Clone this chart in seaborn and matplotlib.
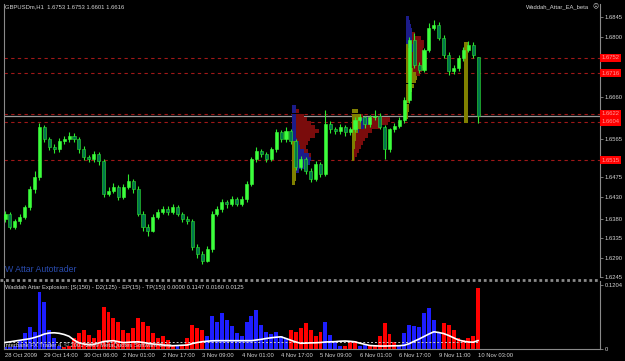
import numpy as np
import matplotlib
matplotlib.use("Agg")
import matplotlib.pyplot as plt
import matplotlib.transforms as mtransforms
from matplotlib.lines import Line2D
import seaborn as sns

# ---------------- data (hourly candles, aggregated per 2h) ----------------
opens = [1.6380, 1.6391, 1.6361, 1.6375, 1.6384, 1.6407, 1.6448, 1.6476, 1.6591, 1.6563,
         1.6545, 1.6540, 1.6559, 1.6563, 1.6572, 1.6563, 1.6540, 1.6522, 1.6517, 1.6529,
         1.6513, 1.6437, 1.6444, 1.6453, 1.6430, 1.6453, 1.6467, 1.6448, 1.6391, 1.6361,
         1.6352, 1.6384, 1.6395, 1.6402, 1.6395, 1.6407, 1.6391, 1.6379, 1.6375, 1.6315,
         1.6299, 1.6283, 1.6310, 1.6391, 1.6402, 1.6418, 1.6414, 1.6425, 1.6414, 1.6425,
         1.6460, 1.6517, 1.6536, 1.6529, 1.6517, 1.6540, 1.6579, 1.6563, 1.6582, 1.6559,
         1.6499, 1.6517, 1.6490, 1.6471, 1.6506, 1.6483, 1.6598, 1.6586, 1.6582, 1.6591,
         1.6579, 1.6586, 1.6609, 1.6614, 1.6598, 1.6614, 1.6618, 1.6591, 1.6540, 1.6586,
         1.6595, 1.6609, 1.6655, 1.6793, 1.6736, 1.6724, 1.6770, 1.6821, 1.6828, 1.6798,
         1.6759, 1.6720, 1.6729, 1.6752, 1.6770, 1.6782, 1.6753]
highs = [1.6398, 1.6395, 1.6380, 1.6390, 1.6412, 1.6455, 1.6490, 1.6602, 1.6596, 1.6568,
         1.6552, 1.6566, 1.6570, 1.6580, 1.6578, 1.6568, 1.6548, 1.6528, 1.6536, 1.6535,
         1.6518, 1.6452, 1.6462, 1.6458, 1.6460, 1.6482, 1.6472, 1.6455, 1.6398, 1.6368,
         1.6390, 1.6402, 1.6410, 1.6410, 1.6414, 1.6412, 1.6396, 1.6386, 1.6380, 1.6322,
         1.6306, 1.6316, 1.6398, 1.6410, 1.6425, 1.6422, 1.6432, 1.6430, 1.6432, 1.6466,
         1.6522, 1.6545, 1.6540, 1.6535, 1.6546, 1.6588, 1.6584, 1.6592, 1.6588, 1.6564,
         1.6525, 1.6522, 1.6496, 1.6512, 1.6510, 1.6632, 1.6606, 1.6592, 1.6598, 1.6596,
         1.6592, 1.6614, 1.6622, 1.6618, 1.6620, 1.6630, 1.6624, 1.6596, 1.6590, 1.6600,
         1.6614, 1.6662, 1.6800, 1.6808, 1.6742, 1.6775, 1.6832, 1.6840, 1.6834, 1.6805,
         1.6764, 1.6735, 1.6758, 1.6776, 1.6790, 1.6788, 1.6753]
lows = [1.6372, 1.6355, 1.6356, 1.6368, 1.6378, 1.6400, 1.6440, 1.6470, 1.6556, 1.6538,
        1.6532, 1.6535, 1.6552, 1.6556, 1.6558, 1.6532, 1.6515, 1.6510, 1.6510, 1.6505,
        1.6430, 1.6432, 1.6440, 1.6424, 1.6426, 1.6448, 1.6440, 1.6385, 1.6352, 1.6340,
        1.6348, 1.6378, 1.6390, 1.6388, 1.6390, 1.6385, 1.6372, 1.6368, 1.6308, 1.6290,
        1.6276, 1.6280, 1.6302, 1.6385, 1.6396, 1.6405, 1.6408, 1.6408, 1.6410, 1.6418,
        1.6455, 1.6510, 1.6522, 1.6510, 1.6512, 1.6534, 1.6556, 1.6556, 1.6552, 1.6492,
        1.6492, 1.6482, 1.6464, 1.6466, 1.6476, 1.6478, 1.6578, 1.6575, 1.6576, 1.6572,
        1.6574, 1.6580, 1.6604, 1.6590, 1.6592, 1.6608, 1.6586, 1.6517, 1.6535, 1.6580,
        1.6590, 1.6602, 1.6648, 1.6728, 1.6716, 1.6718, 1.6765, 1.6815, 1.6792, 1.6752,
        1.6712, 1.6714, 1.6722, 1.6745, 1.6765, 1.6752, 1.6601]
closes = [1.6391, 1.6361, 1.6375, 1.6384, 1.6407, 1.6448, 1.6476, 1.6591, 1.6563, 1.6545,
          1.6540, 1.6559, 1.6563, 1.6572, 1.6563, 1.6540, 1.6522, 1.6517, 1.6529, 1.6513,
          1.6437, 1.6444, 1.6453, 1.6430, 1.6453, 1.6467, 1.6448, 1.6391, 1.6361, 1.6352,
          1.6384, 1.6395, 1.6402, 1.6395, 1.6407, 1.6391, 1.6379, 1.6375, 1.6315, 1.6299,
          1.6283, 1.6310, 1.6391, 1.6402, 1.6418, 1.6414, 1.6425, 1.6414, 1.6425, 1.6460,
          1.6517, 1.6536, 1.6529, 1.6517, 1.6540, 1.6579, 1.6563, 1.6582, 1.6559, 1.6499,
          1.6517, 1.6490, 1.6471, 1.6506, 1.6483, 1.6598, 1.6586, 1.6582, 1.6591, 1.6579,
          1.6586, 1.6609, 1.6614, 1.6598, 1.6614, 1.6618, 1.6591, 1.6540, 1.6586, 1.6595,
          1.6609, 1.6655, 1.6793, 1.6736, 1.6724, 1.6770, 1.6821, 1.6828, 1.6798, 1.6759,
          1.6720, 1.6729, 1.6752, 1.6770, 1.6782, 1.6759, 1.6616]

date_labels = ["28 Oct 2009", "29 Oct 14:00", "30 Oct 06:00", "2 Nov 01:00", "2 Nov 17:00",
               "3 Nov 09:00", "4 Nov 01:00", "4 Nov 17:00", "5 Nov 09:00", "6 Nov 01:00",
               "6 Nov 17:00", "9 Nov 11:00", "10 Nov 03:00"]
date_label_bars = [0, 8, 16, 24, 32, 40, 48, 56, 64, 72, 80, 88, 96]

# visible scale labels (the others are covered by the red level tags)
price_ticks = [1.6845, 1.6800, 1.6660, 1.6565,
               1.6475, 1.6430, 1.6380, 1.6335, 1.6290, 1.6245]
level_prices = [1.6752, 1.6716, 1.6622, 1.6604, 1.6515]
bid_price = 1.6616

# Market-profile blocks (price level, olive / navy / maroon lengths in bars)
profA_start = 58.3
profA_levels = [1.6637, 1.6628, 1.6618, 1.6609, 1.6600, 1.6591, 1.6582, 1.6572, 1.6563, 1.6554,
                1.6545, 1.6536, 1.6526, 1.6517, 1.6508, 1.6499, 1.6490, 1.6480, 1.6471, 1.6462]
profA_olive = [0, 0, 0, 0, 0, 0, 0, 0, 0, 0.8, 0.8, 0.8, 0.8, 0.8, 0.8, 0.8, 0.8, 0.8, 0.8, 0.6]
profA_navy = [0.8, 0.8, 0.8, 0.8, 0.8, 0.8, 0.8, 0.8, 1.0, 0.6, 0.8, 1.5, 2.5, 3.0, 2.8, 1.8, 0.6, 0, 0, 0]
profA_maroon = [0, 0.6, 1.5, 2.2, 3.0, 3.8, 4.6, 3.8, 2.6, 1.8, 1.2, 0.8, 0.4, 0, 0, 0, 0, 0, 0, 0]

profB_start = 70.4
profB_levels = [1.6628, 1.6618, 1.6609, 1.6600, 1.6591, 1.6582, 1.6572, 1.6563, 1.6554,
                1.6545, 1.6536, 1.6526, 1.6517]
profB_olive = [1.2, 1.8, 1.8, 1.8, 1.8, 1.2, 0.8, 0.8, 0.6, 0.6, 0.4, 0.4, 0.4]
profB_navy = [0, 0, 1.4, 1.4, 0.6, 0.3, 0, 0, 0, 0, 0, 0, 0]
profB_maroon = [0, 0.5, 4.5, 4.0, 3.2, 2.6, 2.4, 1.8, 1.6, 1.2, 1.0, 0.6, 0.3]

profC_start = 81.3
profC_levels = [1.6844, 1.6834, 1.6825, 1.6816, 1.6807, 1.6798, 1.6789, 1.6779, 1.6770, 1.6761,
                1.6752, 1.6743, 1.6733, 1.6724, 1.6715, 1.6706, 1.6697, 1.6687, 1.6678, 1.6669,
                1.6660, 1.6651, 1.6641, 1.6632, 1.6623, 1.6614]
profC_olive = [0, 0, 0, 0, 0, 0, 0, 0.5, 0.8, 0.8, 0.8, 0.8, 1.0, 1.5, 2.0, 2.2, 2.0, 1.6, 1.2,
               1.0, 0.8, 0.8, 0.6, 0.6, 0.5, 0.4]
profC_navy = [0.6, 0.8, 1.0, 1.2, 1.2, 1.2, 1.3, 1.0, 0.6, 0.2, 0, 0, 0, 0, 0, 0, 0, 0, 0,
              0, 0, 0, 0, 0, 0, 0]
profC_maroon = [0, 0, 0, 0, 0.6, 1.8, 2.4, 2.2, 2.0, 2.4, 2.8, 3.0, 2.6, 1.8, 0.9, 0, 0, 0, 0,
                0, 0, 0, 0, 0, 0, 0]

profD_start = 93.6
profD_low = 1.6602
profD_high = 1.6789

# Waddah Attar Explosion histogram
wae_values = [0.003, 0.004, 0.006, 0.0169, 0.0301, 0.0414, 0.0320, 0.1072, 0.0884, 0.0357,
              0.0207, 0.006, 0.004, 0.006, 0.0207, 0.0301, 0.0357, 0.0263, 0.0207, 0.0357,
              0.0790, 0.0696, 0.0583, 0.0508, 0.0357, 0.0301, 0.0395, 0.0583, 0.0508, 0.0433,
              0.0301, 0.0207, 0.0245, 0.0169, 0.008, 0.005, 0.008, 0.0207, 0.0451, 0.0395,
              0.0357, 0.0245, 0.0621, 0.0508, 0.0677, 0.0545, 0.0433, 0.0301, 0.0245, 0.0508,
              0.0621, 0.0734, 0.0451, 0.0320, 0.0282, 0.0320, 0.0245, 0.0207, 0.0357, 0.0320,
              0.0395, 0.0489, 0.0357, 0.0245, 0.0320, 0.0508, 0.0263, 0.0132, 0.006, 0.006,
              0.0132, 0.0150, 0.005, 0.008, 0.005, 0.008, 0.0245, 0.0489, 0.0282, 0.0132,
              0.006, 0.0301, 0.0451, 0.0433, 0.0414, 0.0677, 0.0771, 0.0545, 0.0301, 0.0489,
              0.0451, 0.0357, 0.0207, 0.0169, 0.0207, 0.0245, 0.1147]
# direction runs: (colour code, number of consecutive bars)
wae_runs = [('b', 12), ('r', 23), ('b', 1), ('r', 5), ('b', 17), ('r', 7), ('b', 4),
            ('r', 3), ('b', 2), ('r', 6), ('b', 9), ('r', 8)]
explosion = [0.0122, 0.0135, 0.0150, 0.0164, 0.0179, 0.0192, 0.0216, 0.0245, 0.0282, 0.0301,
             0.0305, 0.0295, 0.0273, 0.0239, 0.0169, 0.0117, 0.0094, 0.0079, 0.0085, 0.0113,
             0.0141, 0.0150, 0.0156, 0.0137, 0.0120, 0.0126, 0.0132, 0.0135, 0.0124, 0.0107,
             0.0094, 0.0085, 0.0075, 0.0068, 0.0062, 0.0066, 0.0071, 0.0075, 0.0102, 0.0122,
             0.0137, 0.0147, 0.0154, 0.0156, 0.0156, 0.0156, 0.0156, 0.0156, 0.0156, 0.0156,
             0.0156, 0.0169, 0.0182, 0.0198, 0.0211, 0.0222, 0.0229, 0.0198, 0.0164, 0.0132,
             0.0107, 0.0111, 0.0115, 0.0117, 0.0122, 0.0132, 0.0135, 0.0139, 0.0147, 0.0150,
             0.0145, 0.0135, 0.0109, 0.0087, 0.0066, 0.0060, 0.0056, 0.0056, 0.0058, 0.0060,
             0.0062, 0.0070, 0.0100, 0.0145, 0.0188, 0.0235, 0.0282, 0.0324, 0.0310, 0.0290,
             0.0254, 0.0211, 0.0169, 0.0147, 0.0132, 0.0128, 0.0160]
deadzone = 0.0125
wae_max_label = 0.1204

# ---------------- style ----------------
sns.set_theme(style="dark", rc={"axes.facecolor": "black", "figure.facecolor": "black",
                                "savefig.facecolor": "black"})
plt.rcParams['font.family'] = ['Liberation Sans', 'DejaVu Sans']

GRID = '#8a8a8a'
TXT = '#d4d4d4'
FS = 4.2

fig = plt.figure(figsize=(6.25, 3.61), dpi=100)
ax = fig.add_axes([4 / 625, 84 / 361, 596 / 625, 273 / 361])
ax2 = fig.add_axes([4 / 625, 12 / 361, 596 / 625, 68 / 361])

for a in (ax, ax2):
    a.set_facecolor('black')
    a.grid(False)
    for s in a.spines.values():
        s.set_visible(False)
    for side in ('left', 'right'):
        a.spines[side].set_visible(True)
        a.spines[side].set_color(GRID)
        a.spines[side].set_linewidth(0.8)
ax2.spines['bottom'].set_visible(True)
ax2.spines['bottom'].set_color(GRID)
ax2.spines['bottom'].set_linewidth(0.8)

o = np.array(opens); h = np.array(highs); l = np.array(lows); c = np.array(closes)
n = len(c)
x = np.arange(n)
xlim = (-0.2, 120.7)

# ---- market profile blocks ----
def draw_profile(start, levels, olive, navy, maroon):
    lv = np.array(levels)
    ol = np.array(olive); nv = np.array(navy); mr = np.array(maroon)
    hgt = 0.00094
    ax.barh(lv, ol, left=start, height=hgt, color='#808000', lw=0, zorder=1)
    ax.barh(lv, nv, left=start + ol, height=hgt, color='#1c1c8a', lw=0, zorder=1)
    ax.barh(lv, mr, left=start + ol + nv, height=hgt, color='#7a0c0c', lw=0, zorder=1)

draw_profile(profA_start, profA_levels, profA_olive, profA_navy, profA_maroon)
draw_profile(profB_start, profB_levels, profB_olive, profB_navy, profB_maroon)
draw_profile(profC_start, profC_levels, profC_olive, profC_navy, profC_maroon)
ax.bar([profD_start], [profD_high - profD_low], bottom=profD_low, width=0.8,
       color='#808000', lw=0, zorder=1)

# ---- horizontal levels ----
for p in level_prices:
    ax.axhline(p, color='#a01818', lw=0.8, ls=(0, (3, 3)), zorder=0.5)
ax.axhline(bid_price, color='#9a9a9a', lw=0.9, zorder=0.6)

# ---- candles ----
up = c >= o
ax.vlines(x, l, h, color='#2ee82e', lw=0.8, zorder=3)
body = np.maximum(np.abs(c - o), 0.00012)
ax.bar(x[up], body[up], bottom=o[up], width=0.62, color='#3cff3c', edgecolor='#3cff3c',
       lw=0.4, zorder=4)
ax.bar(x[~up], body[~up], bottom=c[~up], width=0.62, color='#00784c', edgecolor='#30e030',
       lw=0.4, zorder=4)

ax.set_xlim(*xlim)
ax.set_ylim(1.6248, 1.6876)
ax.set_xticks([])
ax.yaxis.tick_right()
ax.set_yticks(price_ticks)
ax.set_yticklabels([f"{t:.4f}" for t in price_ticks])
ax.tick_params(axis='y', colors=GRID, labelcolor=TXT, labelsize=FS, length=2, width=0.6, pad=1.5)

# red price-level labels on the scale
trans = mtransforms.blended_transform_factory(ax.transAxes, ax.transData)
for p in level_prices:
    ax.text(1.003, p, f"{p:.4f}", transform=trans, ha='left', va='center', fontsize=FS,
            color='#ff9a9a', clip_on=False, zorder=20,
            bbox=dict(boxstyle='square,pad=0.25', facecolor='#ff0000', edgecolor='none'))

# ---- lower panel: Waddah Attar Explosion ----
wae_dir = [code for code, cnt in wae_runs for _ in range(cnt)]
vals = np.array(wae_values)
cols = ['#ff0000' if d == 'r' else '#1e1eff' for d in wae_dir]
ax2.bar(x, vals, width=0.8, color=cols, lw=0, zorder=2)
sns.lineplot(x=x, y=explosion, ax=ax2, color='white', lw=1.2, zorder=4)
sns.lineplot(x=[x[0], x[-1]], y=[deadzone, deadzone], ax=ax2, color='#c8c8c8', lw=0.7,
             ls=(0, (2, 2)), zorder=3)
ax2.set_xlim(*xlim)
ax2.set_ylim(0, 0.1279)
ax2.yaxis.tick_right()
ax2.set_yticks([0, wae_max_label])
ax2.set_yticklabels(["0", f"{wae_max_label:.4f}"])
ax2.tick_params(axis='y', colors=GRID, labelcolor=TXT, labelsize=FS, length=2, width=0.6, pad=1.5)
ax2.set_xticks(date_label_bars)
ax2.set_xticklabels(date_labels)
ax2.tick_params(axis='x', colors=GRID, labelcolor=TXT, labelsize=FS, length=2, width=0.6, pad=0.8)
for lab in ax2.get_xticklabels():
    lab.set_horizontalalignment('left')
ax2.set_xlabel(''); ax2.set_ylabel('')

# ---- separator between panels ----
fig.add_artist(Line2D([0, 600 / 625], [1 - 279.5 / 361] * 2, color=GRID, lw=2.0,
                      ls=(0, (1, 1))))

# ---- texts ----
fig.text(5 / 625, 1 - 7 / 361, "GBPUSDm,H1  1.6753 1.6753 1.6601 1.6616", color=TXT,
         fontsize=FS, va='center', ha='left')
fig.text(589 / 625, 1 - 7 / 361, "Waddah_Attar_EA_beta", color=TXT, fontsize=FS,
         va='center', ha='right')
fig.text(593 / 625, 1 - 7 / 361, "\u2639", color=TXT, fontsize=FS,
         va='center', ha='left', family=['DejaVu Sans'])
fig.text(5 / 625, 1 - 269 / 361, "W Attar Autotrader", color='#2a4cb0', fontsize=6.3,
         va='center', ha='left')
fig.text(5 / 625, 1 - 287 / 361,
         "Waddah Attar Explosion: [S(150) - D2(125) - EP(15) - TP(15)] 0.0000 0.1147 0.0160 0.0125",
         color=TXT, fontsize=FS, va='center', ha='left')
fig.text(4 / 625, 1 - 345 / 361,
         "Interbank FX Trader 4, \u00a9 2001-2009 MetaQuotes Software Corp.",
         color='#d8d8d8', fontsize=FS, va='center', ha='left', zorder=10)

fig.savefig('out.png', dpi=100, facecolor='black')
